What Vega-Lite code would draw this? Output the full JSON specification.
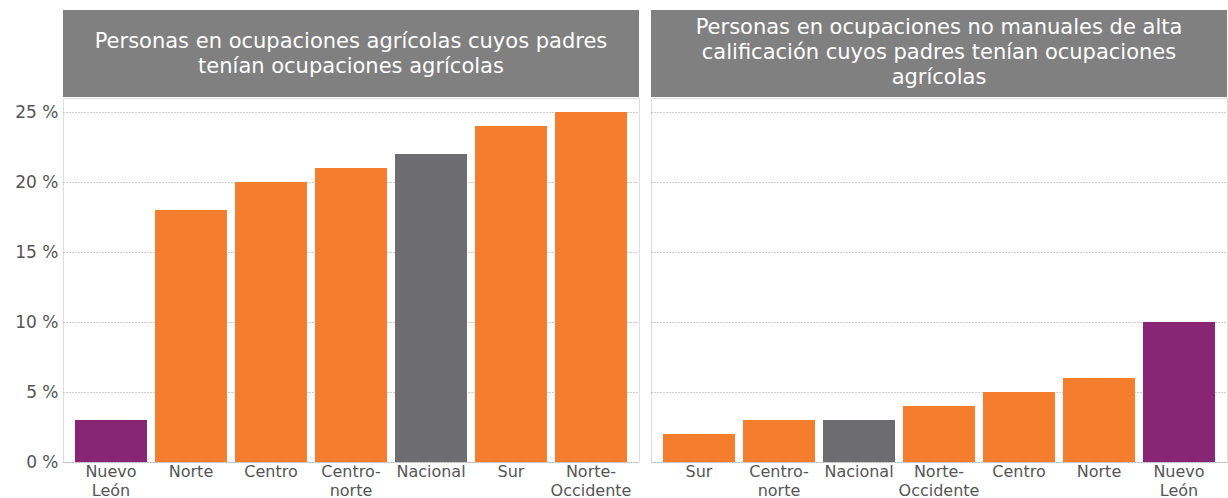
{
  "$schema": "https://vega.github.io/schema/vega-lite/v6.json",
  "padding": {"top": 10, "left": 14, "right": 1, "bottom": 0},
  "background": "white",
  "config": {
    "font": "DejaVu Sans",
    "concat": {"spacing": 10},
    "axis": {"labelFont": "DejaVu Sans", "labelColor": "#555555", "labelFontSize": 16, "ticks": false, "domain": false, "title": null}
  },
  "datasets": {
    "left": [
      {"region": "Nuevo León", "valor": 3, "tipo": "nl"},
      {"region": "Norte", "valor": 18, "tipo": "reg"},
      {"region": "Centro", "valor": 20, "tipo": "reg"},
      {"region": "Centro-norte", "valor": 21, "tipo": "reg"},
      {"region": "Nacional", "valor": 22, "tipo": "nac"},
      {"region": "Sur", "valor": 24, "tipo": "reg"},
      {"region": "Norte-Occidente", "valor": 25, "tipo": "reg"}
    ],
    "right": [
      {"region": "Sur", "valor": 2, "tipo": "reg"},
      {"region": "Centro-norte", "valor": 3, "tipo": "reg"},
      {"region": "Nacional", "valor": 3, "tipo": "nac"},
      {"region": "Norte-Occidente", "valor": 4, "tipo": "reg"},
      {"region": "Centro", "valor": 5, "tipo": "reg"},
      {"region": "Norte", "valor": 6, "tipo": "reg"},
      {"region": "Nuevo León", "valor": 10, "tipo": "nl"}
    ],
    "titles": [
      {"panel": "a", "titulo": ["Personas en ocupaciones agrícolas cuyos padres", "tenían ocupaciones agrícolas"]},
      {"panel": "b", "titulo": ["Personas en ocupaciones no manuales de alta", "calificación cuyos padres tenían ocupaciones", "agrícolas"]}
    ]
  },
  "hconcat": [
    {
      "spacing": 0,
      "vconcat": [
        {
          "width": 576, "height": 87,
          "view": {"fill": "#808080", "stroke": null},
          "data": {"name": "titles"},
          "transform": [{"filter": "datum.panel == 'a'"}],
          "mark": {"type": "text", "color": "white", "fontSize": 21, "align": "center", "baseline": "middle", "lineHeight": 25, "dy": -12, "font": "DejaVu Sans"},
          "encoding": {"text": {"field": "titulo"}}
        },
        {
          "width": 576, "height": 364,
          "view": {"stroke": "#dddddd"},
          "data": {"name": "left"},
          "mark": {"type": "bar"},
          "encoding": {
            "x": {"field": "region", "type": "nominal", "sort": null,
              "scale": {"paddingInner": 0.1, "paddingOuter": 0.15},
              "axis": {"labelAngle": 0, "labelPadding": 1, "labelLineHeight": 19, "labelBaseline": "top",
                "labelExpr": "datum.label == 'Nuevo León' ? ['Nuevo','León'] : datum.label == 'Centro-norte' ? ['Centro-','norte'] : datum.label == 'Norte-Occidente' ? ['Norte-','Occidente'] : datum.label"}},
            "y": {"field": "valor", "type": "quantitative",
              "scale": {"domain": [0, 26], "nice": false},
              "axis": {"values": [0, 5, 10, 15, 20, 25], "labelExpr": "datum.value + ' %'", "labelFontSize": 17, "labelPadding": 5, "grid": true, "gridDash": [1, 2], "gridColor": "#9a9a9a"}},
            "color": {"field": "tipo", "type": "nominal", "legend": null,
              "scale": {"domain": ["reg", "nl", "nac"], "range": ["#F47E2E", "#882574", "#6D6C71"]}}
          }
        }
      ]
    },
    {
      "spacing": 0,
      "vconcat": [
        {
          "width": 576, "height": 87,
          "view": {"fill": "#808080", "stroke": null},
          "data": {"name": "titles"},
          "transform": [{"filter": "datum.panel == 'b'"}],
          "mark": {"type": "text", "color": "white", "fontSize": 21, "align": "center", "baseline": "middle", "lineHeight": 25, "dy": -26, "font": "DejaVu Sans"},
          "encoding": {"text": {"field": "titulo"}}
        },
        {
          "width": 576, "height": 364,
          "view": {"stroke": "#dddddd"},
          "data": {"name": "right"},
          "mark": {"type": "bar"},
          "encoding": {
            "x": {"field": "region", "type": "nominal", "sort": null,
              "scale": {"paddingInner": 0.1, "paddingOuter": 0.15},
              "axis": {"labelAngle": 0, "labelPadding": 1, "labelLineHeight": 19, "labelBaseline": "top",
                "labelExpr": "datum.label == 'Nuevo León' ? ['Nuevo','León'] : datum.label == 'Centro-norte' ? ['Centro-','norte'] : datum.label == 'Norte-Occidente' ? ['Norte-','Occidente'] : datum.label"}},
            "y": {"field": "valor", "type": "quantitative",
              "scale": {"domain": [0, 26], "nice": false},
              "axis": {"values": [0, 5, 10, 15, 20, 25], "labels": false, "grid": true, "gridDash": [1, 2], "gridColor": "#9a9a9a"}},
            "color": {"field": "tipo", "type": "nominal", "legend": null,
              "scale": {"domain": ["reg", "nl", "nac"], "range": ["#F47E2E", "#882574", "#6D6C71"]}}
          }
        }
      ]
    }
  ]
}
